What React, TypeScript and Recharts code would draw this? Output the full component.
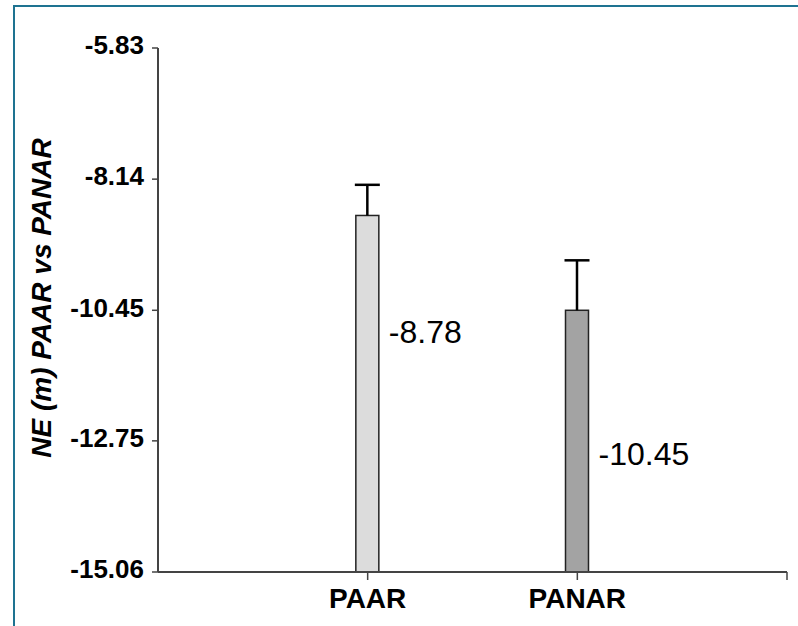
import { Bar, BarChart, Cell, Label, LabelList, XAxis, YAxis } from "recharts";

const categories = ["PAAR", "PANAR"];
const means = [-8.78, -10.45];
const errors = [0.54, 0.88];
const yTicks = [-15.06, -12.75, -10.45, -8.14, -5.83];
const xTicks = [1, 2, 3];

const barColors = ["#dcdcdc", "#a3a3a3"];
// vertical nudge of each value label, from the bar top (px)
const labelDy = [116, 144];

const FONT = "'Liberation Sans', Arial, sans-serif";

const data = categories.map((name, i) => ({
  name,
  pos: i + 1,
  range: [yTicks[0], means[i]],
  mean: means[i],
  err: errors[i],
}));

const BarWithError = (props: any) => {
  const { x, y, width, height, payload, fill } = props;
  const span = payload.range[1] - payload.range[0];
  const pxPerUnit = height / span;
  const topY = y - payload.err * pxPerUnit;
  const cx = x + width / 2;
  return (
    <g>
      <rect x={x} y={y} width={width} height={height} fill={fill} stroke="#222" strokeWidth={1.5} />
      <line x1={cx} x2={cx} y1={y} y2={topY} stroke="#000" strokeWidth={2.5} />
      <line x1={cx - 12.5} x2={cx + 12.5} y1={topY} y2={topY} stroke="#000" strokeWidth={2.5} />
    </g>
  );
};

const ValueLabel = (props: any) => {
  const { x, y, width, index } = props;
  return (
    <text
      x={x + width + 10}
      y={y + labelDy[index]}
      dy="0.35em"
      fontFamily={FONT}
      fontSize={32}
      fill="#000"
    >
      {means[index].toFixed(2)}
    </text>
  );
};

const YTitle = (props: any) => {
  const { viewBox } = props;
  const cx = 41;
  const cy = viewBox.y + viewBox.height / 2 - 12;
  return (
    <text
      x={cx}
      y={cy}
      transform={`rotate(-90, ${cx}, ${cy})`}
      textAnchor="middle"
      dominantBaseline="central"
      fontFamily={FONT}
      fontSize={28}
      fontWeight="bold"
      fontStyle="italic"
      fill="#000"
    >
      NE (m) PAAR vs PANAR
    </text>
  );
};

export default function App() {
  return (
    <div style={{ position: "absolute", left: 0, top: 0, width: 798, height: 626, overflow: "hidden", background: "#fff" }}>
      <div
        style={{
          position: "absolute",
          left: 13,
          top: 5,
          width: 900,
          height: 900,
          borderLeft: "2px solid #1e7391",
          borderTop: "2px solid #1e7391",
        }}
      />
      <div style={{ position: "absolute", left: 0, top: 0 }}>
        <BarChart width={798} height={626} data={data} margin={{ top: 48, right: 11, bottom: 14, left: 20 }}>
          <XAxis
            type="number"
            dataKey="pos"
            domain={[0, 3]}
            ticks={xTicks}
            tickFormatter={(v: number) => categories[v - 1] ?? ""}
            height={40}
            tickSize={8}
            tickMargin={8}
            axisLine={{ stroke: "#444", strokeWidth: 2 }}
            tickLine={{ stroke: "#444", strokeWidth: 1.5 }}
            tick={{ fill: "#000", fontSize: 28, fontWeight: "bold", fontFamily: FONT }}
          />
          <YAxis
            type="number"
            domain={[yTicks[0], yTicks[yTicks.length - 1]]}
            ticks={yTicks}
            interval={0}
            tickFormatter={(v: number) => v.toFixed(2)}
            width={138}
            tickSize={6}
            tickMargin={8}
            axisLine={{ stroke: "#444", strokeWidth: 2 }}
            tickLine={{ stroke: "#444", strokeWidth: 1.5 }}
            tick={{ fill: "#000", fontSize: 26, fontWeight: "bold", fontFamily: FONT, dy: -3 }}
          >
            <Label content={<YTitle />} />
          </YAxis>
          <Bar dataKey="range" barSize={23} shape={<BarWithError />} isAnimationActive={false}>
            {data.map((d, i) => (
              <Cell key={d.name} fill={barColors[i]} />
            ))}
            <LabelList dataKey="mean" content={<ValueLabel />} />
          </Bar>
        </BarChart>
      </div>
    </div>
  );
}
